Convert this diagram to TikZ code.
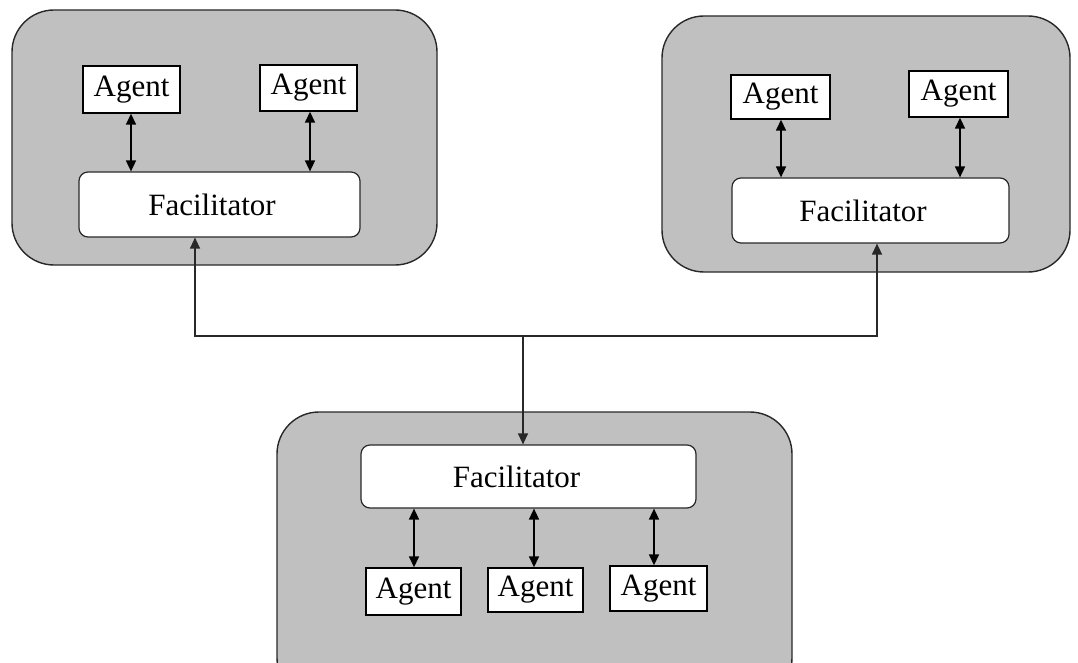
\documentclass[tikz,border=0pt]{standalone}
\usepackage{fontspec}
\setmainfont{Liberation Serif}
\usetikzlibrary{arrows.meta}
\definecolor{boxgray}{RGB}{192,192,192}
\definecolor{linegray}{RGB}{40,40,40}
\tikzset{
  group/.style={draw=linegray, line width=1.4pt, fill=boxgray, rounded corners=42pt},
  agentbox/.style={draw=black, line width=1.4pt, fill=white, inner sep=0pt, font=\fontsize{31}{35}\selectfont},
  facbox/.style={draw=linegray, line width=1.2pt, fill=white, rounded corners=9pt, inner sep=0pt, font=\fontsize{31}{35}\selectfont},
  tip/.tip={Triangle[width=10pt,length=11pt]},
  link/.style={draw=black, line width=1.6pt},
  net/.style={draw=linegray, line width=1.3pt}
}
\begin{document}
\begin{tikzpicture}[x=1pt,y=-1pt]
\useasboundingbox (0,0) rectangle (1078,663);
\clip (0,0) rectangle (1078,663);
\fill[white] (0,0) rectangle (1078,663);
% groups
\draw[group] (12,10) rectangle (437,265);
\draw[group] (662,16) rectangle (1070,272);
\draw[group] (277,412) rectangle (792,700);
% top-left
\node[agentbox, minimum width=97pt, minimum height=47pt] (a1) at (131.5,89.5) {Agent};
\node[agentbox, minimum width=97pt, minimum height=46pt] (a2) at (308.5,88) {Agent};
\node[facbox, minimum width=281pt, minimum height=65pt] (f1) at (219.5,204.5) {Facilitator\hspace*{15pt}};
% top-right
\node[agentbox, minimum width=99pt, minimum height=44pt] (a3) at (780.5,97) {Agent};
\node[agentbox, minimum width=99pt, minimum height=46pt] (a4) at (958.5,94) {Agent};
\node[facbox, minimum width=277pt, minimum height=65pt] (f2) at (870.5,210.5) {Facilitator\hspace*{15pt}};
% bottom
\node[facbox, minimum width=335pt, minimum height=63pt] (f3) at (528.5,476.5) {Facilitator\hspace*{24pt}};
\node[agentbox, minimum width=95pt, minimum height=47pt] (a5) at (413.5,591.5) {Agent};
\node[agentbox, minimum width=95pt, minimum height=44pt] (a6) at (535.5,590) {Agent};
\node[agentbox, minimum width=97pt, minimum height=45pt] (a7) at (658.5,588.5) {Agent};
% agent links
\coordinate (x1) at (131,0);
\coordinate (x2) at (310,0);
\coordinate (x3) at (781,0);
\coordinate (x4) at (960,0);
\coordinate (x5) at (414,0);
\coordinate (x6) at (534,0);
\coordinate (x7) at (654,0);
\draw[link, tip-tip] (a1.south -| x1) -- (f1.north -| x1);
\draw[link, tip-tip] (a2.south -| x2) -- (f1.north -| x2);
\draw[link, tip-tip] (a3.south -| x3) -- (f2.north -| x3);
\draw[link, tip-tip] (a4.south -| x4) -- (f2.north -| x4);
\draw[link, tip-tip] (f3.south -| x5) -- (a5.north -| x5);
\draw[link, tip-tip] (f3.south -| x6) -- (a6.north -| x6);
\draw[link, tip-tip] (f3.south -| x7) -- (a7.north -| x7);
% network
\coordinate (jl) at (195,336);
\coordinate (jr) at (877,336);
\coordinate (jc) at (523,336);
\draw[net, tip-tip] (f1.south -| jl) -- (jl) -- (jr) -- (f2.south -| jr);
\draw[net, -tip] (jc) -- (f3.north -| jc);
\end{tikzpicture}
\end{document}
